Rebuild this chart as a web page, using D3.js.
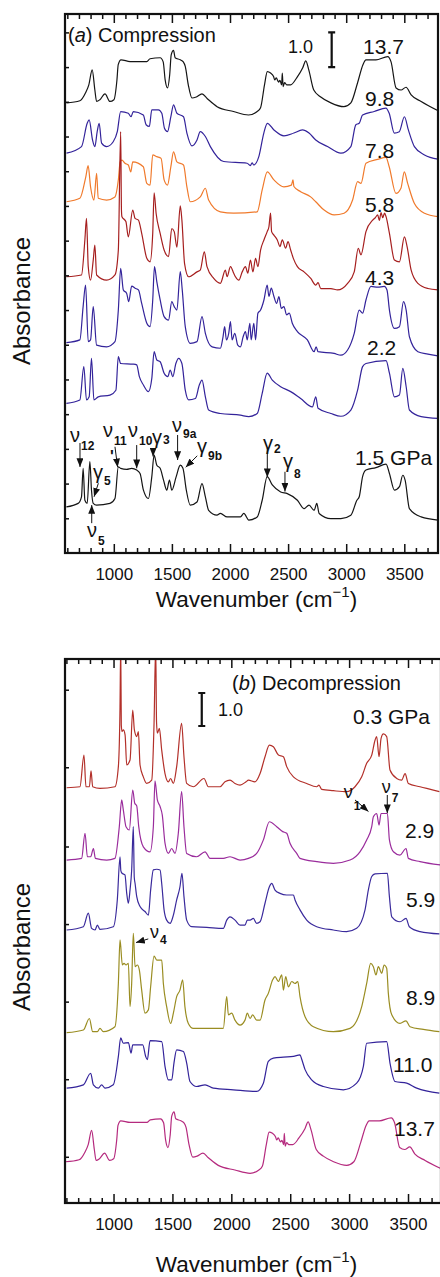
<!DOCTYPE html>
<html>
<head>
<meta charset="utf-8">
<script src="https://cdn.jsdelivr.net/npm/d3@7"></script>
<style>
  body { margin: 0; background: #fff; }
  text { font-family: "Liberation Sans", Arial, Helvetica, sans-serif; fill: #111; }
</style>
</head>
<body>
<svg id="chart" width="440" height="1277"></svg>
<script>
// spectra: [wavenumber, absorbance above the trace's own baseline]
var s137 = [[593,0],[708,0.06],[757,0.29],[785,0.52],[814,0.95],[837,0.37],[852,0.04],[880,0.09],[924,0.26],[967,0.04],[1001,0.09],[1027,0.66],[1038,1.10],[1062,1.24],[1140,1.19],[1284,1.19],[1312,1.27],[1399,1.30],[1425,1.18],[1442,0.66],[1462,0.43],[1481,0.81],[1494,1.38],[1514,1.51],[1528,1.30],[1572,1.24],[1598,1.18],[1615,1.05],[1641,0.52],[1673,0.14],[1710,0.17],[1759,0.26],[1805,0.12],[1889,-0.11],[2030,-0.25],[2159,-0.35],[2234,-0.25],[2263,-0.14],[2297,0.52],[2321,0.90],[2349,0.86],[2375,0.76],[2385,0.66],[2398,0.72],[2418,0.60],[2430,0.65],[2444,0.52],[2450,0.86],[2457,0.47],[2470,0.58],[2488,0.52],[2522,0.52],[2574,0.72],[2626,1.01],[2652,1.21],[2678,0.95],[2721,0.37],[2781,0.17],[2868,0],[2980,-0.11],[3040,0],[3098,0.58],[3144,1.10],[3170,1.24],[3256,1.24],[3357,1.33],[3386,1.18],[3429,0.43],[3472,0.37],[3515,0.45],[3559,0.23],[3645,0.04],[3792,-0.23]];
var s98 = [[593,0],[722,0.19],[771,0.86],[788,0.96],[817,0.38],[837,0.19],[857,0.62],[874,0.86],[895,0.29],[938,0.19],[995,0.33],[1030,0.62],[1059,1.20],[1125,1.15],[1148,1.05],[1168,1.20],[1254,1.10],[1278,0.82],[1306,0.77],[1327,1.25],[1384,1.25],[1413,1.15],[1436,0.72],[1462,0.62],[1491,1.05],[1514,1.39],[1543,1.15],[1600,1.05],[1629,0.58],[1673,0.21],[1716,0.38],[1744,0.62],[1788,0.48],[1831,0.19],[1946,-0.24],[2148,-0.29],[2175,-0.36],[2190,-0.28],[2205,-0.34],[2248,-0.10],[2291,0.58],[2321,0.86],[2378,0.67],[2464,0.50],[2550,0.58],[2623,0.67],[2680,0.58],[2738,0.38],[2839,0.19],[2954,0],[3040,0.19],[3083,0.82],[3112,0.86],[3141,1.10],[3241,1.20],[3342,1.30],[3370,1.15],[3414,0.58],[3457,0.62],[3501,1.05],[3535,0.67],[3587,0.19],[3674,-0.05],[3789,-0.17]];
var s78 = [[593,0],[708,0.10],[759,0.72],[779,1.04],[800,0.43],[829,0.05],[852,0.82],[866,0.10],[938,0.05],[1010,0.14],[1038,0.60],[1055,1.15],[1070,1.20],[1096,1.11],[1125,1.06],[1146,0.86],[1163,1.15],[1254,1.01],[1284,0.53],[1312,0.48],[1335,1.35],[1370,1.30],[1407,1.25],[1433,0.63],[1462,0.48],[1491,1.01],[1514,1.44],[1543,1.15],[1600,1.06],[1629,0.43],[1658,0],[1744,0.14],[1788,0.39],[1816,0.05],[1917,-0.29],[2032,-0.33],[2234,-0.29],[2277,0.34],[2321,0.86],[2378,0.63],[2464,0.43],[2528,0.48],[2542,0.63],[2550,0.44],[2608,0.29],[2694,0.14],[2738,0],[2810,-0.24],[2896,-0.38],[2982,-0.33],[3055,0.05],[3098,0.58],[3127,0.53],[3170,1.11],[3271,1.22],[3342,1.28],[3370,1.01],[3428,0.24],[3471,0.39],[3500,0.86],[3529,0.53],[3587,-0.05],[3674,-0.33],[3789,-0.43]];
var s58 = [[592,0],[722,0.05],[751,1.06],[765,1.68],[780,0.29],[800,-0.10],[823,0.48],[837,0.91],[852,0.05],[938,-0.10],[1010,0.05],[1039,0.77],[1059,4.18],[1066,1.90],[1070,1.73],[1104,1.59],[1125,1.15],[1163,1.92],[1183,1.68],[1212,1.63],[1240,1.25],[1284,0.53],[1312,0.43],[1335,1.25],[1347,2.42],[1364,1.83],[1399,1.25],[1433,0.77],[1471,0.58],[1499,1.39],[1520,1.30],[1543,0.85],[1572,2.04],[1586,1.63],[1609,0.38],[1644,0],[1716,0.14],[1744,0.19],[1779,0.72],[1802,0.29],[1860,-0.05],[1917,-0.19],[1960,0.19],[1975,0],[2004,0.29],[2032,0.10],[2047,0],[2076,-0.10],[2105,0.14],[2133,0.29],[2153,0.10],[2176,0.48],[2197,0.14],[2220,0.53],[2240,0.29],[2263,0.77],[2292,1.06],[2320,1.30],[2335,1.44],[2349,1.83],[2358,1.30],[2378,1.20],[2407,1.06],[2430,0.87],[2450,1.06],[2479,0.82],[2499,1.01],[2522,0.77],[2545,0.53],[2580,0.29],[2637,0.14],[2695,-0.05],[2738,-0.24],[2758,-0.17],[2781,-0.34],[2868,-0.34],[2925,-0.38],[3012,-0.19],[3069,0.14],[3104,0.82],[3127,0.63],[3170,1.30],[3228,1.63],[3250,1.70],[3271,1.78],[3285,1.62],[3300,1.85],[3314,1.70],[3330,1.83],[3343,1.73],[3372,1.25],[3415,0.48],[3458,0.43],[3501,1.15],[3524,0.87],[3559,0.19],[3617,-0.19],[3703,-0.34],[3789,-0.38]];
var s43 = [[592,0],[708,0.08],[736,1.04],[757,1.66],[780,0.03],[800,0.08],[823,1.04],[852,-0.07],[938,-0.12],[1010,0.03],[1039,0.94],[1059,2.14],[1082,1.52],[1111,1.42],[1128,1.18],[1154,1.63],[1183,1.57],[1212,1.52],[1240,1.13],[1284,0.56],[1312,0.46],[1335,1.23],[1350,2.19],[1370,1.76],[1399,1.23],[1433,0.75],[1471,0.65],[1499,1.18],[1520,1.04],[1543,0.94],[1572,2.05],[1589,1.52],[1615,0.46],[1658,-0.02],[1716,0.03],[1759,0.75],[1788,0.27],[1846,-0.12],[1917,-0.16],[1940,0.17],[1954,0.46],[1969,0.08],[1989,0.27],[2004,0.61],[2018,0.08],[2041,0.27],[2067,-0.07],[2090,-0.12],[2113,0.17],[2133,0.32],[2148,0.08],[2171,0.56],[2182,0.08],[2205,0.56],[2220,0.08],[2240,0.85],[2263,0.94],[2292,1.23],[2320,1.66],[2335,1.33],[2355,1.57],[2378,1.33],[2401,1.13],[2421,1.33],[2441,0.99],[2464,1.04],[2487,0.80],[2510,0.85],[2536,0.56],[2580,0.32],[2666,0.08],[2724,-0.26],[2741,-0.12],[2758,-0.26],[2896,-0.31],[2954,-0.36],[3012,-0.21],[3069,0.27],[3112,0.94],[3141,0.85],[3170,1.23],[3213,1.62],[3271,1.60],[3328,1.62],[3351,1.52],[3372,0.94],[3415,0.41],[3458,0.46],[3493,1.18],[3516,0.94],[3544,0.17],[3617,-0.26],[3703,-0.33],[3789,-0.38]];
var s22 = [[592,0],[708,0.10],[742,1.06],[765,0.10],[788,0.19],[808,1.30],[829,0.10],[866,0.19],[967,0.24],[1018,0.38],[1039,1.35],[1059,1.15],[1169,1.13],[1197,1.11],[1220,0.77],[1255,0.53],[1298,0.34],[1327,0.72],[1347,1.49],[1370,1.25],[1399,1.20],[1433,0.87],[1465,0.77],[1485,0.96],[1508,0.77],[1534,1.15],[1558,1.30],[1586,1.15],[1615,0.38],[1644,0.10],[1702,0.14],[1736,0.53],[1759,0.67],[1788,0.19],[1816,-0.19],[1917,-0.29],[2090,-0.34],[2162,-0.38],[2234,-0.29],[2277,0.29],[2320,0.87],[2364,0.67],[2436,0.48],[2522,0.34],[2608,0.14],[2709,-0.10],[2738,0.19],[2758,-0.14],[2868,-0.29],[2954,-0.37],[3040,-0.19],[3098,0.38],[3141,1.06],[3170,1.15],[3343,1.23],[3372,0.87],[3415,0.19],[3458,0.24],[3487,1.01],[3516,0.48],[3544,-0.19],[3645,-0.38],[3789,-0.43]];
var s15 = [[592,0],[693,0.10],[722,0.29],[736,1.11],[751,0.19],[771,0.10],[794,1.30],[808,0.48],[823,0.10],[852,0.05],[967,0.10],[1010,0.24],[1039,1.15],[1059,1.11],[1111,1.08],[1154,1.11],[1197,1.06],[1226,0.96],[1255,0.48],[1298,0.24],[1327,0.87],[1347,1.49],[1370,1.20],[1399,1.11],[1428,0.77],[1456,0.48],[1479,0.77],[1499,0.48],[1537,0.87],[1572,1.20],[1595,1.11],[1624,0.48],[1658,0.05],[1716,0.14],[1759,0.67],[1788,0.29],[1816,-0.10],[1888,-0.24],[1917,-0.19],[1975,-0.29],[2090,-0.29],[2119,-0.19],[2162,-0.38],[2234,-0.29],[2277,0.19],[2320,0.87],[2364,0.63],[2436,0.43],[2493,0.38],[2580,0.19],[2637,-0.05],[2680,0.05],[2724,-0.10],[2747,0.10],[2767,-0.19],[2868,-0.34],[2954,-0.34],[3040,-0.24],[3092,0.19],[3112,0.29],[3141,0.87],[3170,1.06],[3256,1.13],[3343,1.23],[3372,0.96],[3415,0.48],[3458,0.58],[3487,0.91],[3507,0.77],[3544,-0.05],[3645,-0.29],[3789,-0.38]];

var s03 = [[602,0],[715,0.03],[749,0.99],[766,0.03],[795,0.03],[809,0.51],[823,0.03],[885,-0.02],[1012,0.03],[1041,0.64],[1055,2.45],[1061,4.30],[1066,1.90],[1072,1.70],[1083,1.75],[1098,1.60],[1112,0.69],[1140,0.84],[1163,2.35],[1177,1.75],[1197,1.55],[1211,1.70],[1225,0.69],[1253,0.33],[1281,0.13],[1324,0.23],[1344,1.95],[1358,4.30],[1365,2.00],[1372,1.65],[1389,1.80],[1409,1.14],[1437,0.43],[1465,0.18],[1485,0.28],[1508,0.13],[1536,0.64],[1578,1.95],[1598,0.94],[1621,0.13],[1677,0.03],[1768,0.28],[1805,0.03],[1904,0.03],[1946,0.18],[1989,0.23],[2031,0.13],[2074,0.08],[2125,0.18],[2145,0.23],[2201,0.18],[2244,0.43],[2286,0.94],[2323,1.29],[2357,1.24],[2400,0.99],[2442,0.94],[2470,0.64],[2527,0.33],[2640,0.13],[2725,0.03],[2744,0.08],[2767,-0.05],[2866,-0.09],[2979,-0.12],[3050,0.03],[3107,0.33],[3149,0.74],[3192,0.99],[3220,1.44],[3234,1.55],[3254,0.94],[3271,1.49],[3291,1.63],[3319,1.55],[3347,0.54],[3404,0.28],[3446,0.23],[3475,0.43],[3503,0.13],[3602,0.03],[3715,-0.07],[3766,-0.12]];
var s29 = [[602,0],[729,0.05],[758,0.81],[778,0.10],[806,0.10],[829,0.35],[846,0.05],[942,0],[1012,0.05],[1049,1.01],[1069,1.82],[1083,1.52],[1106,1.01],[1134,0.91],[1163,2.12],[1180,1.72],[1197,1.64],[1214,1.01],[1253,0.40],[1310,0.25],[1338,1.01],[1352,2.40],[1372,1.82],[1395,1.62],[1414,1.36],[1437,0.51],[1465,0.20],[1494,0.35],[1522,0.20],[1550,0.81],[1578,2.07],[1598,1.01],[1621,0.20],[1706,0.10],[1777,0.25],[1819,0.05],[1932,0.05],[1989,0.10],[2074,0],[2145,0.05],[2215,0.20],[2272,0.61],[2323,1.16],[2385,1.01],[2436,0.86],[2470,0.81],[2498,0.51],[2555,0.20],[2583,0.05],[2725,-0.05],[2866,-0.10],[3008,0],[3092,0.25],[3149,0.61],[3192,1.01],[3206,1.31],[3234,1.41],[3254,1.06],[3271,1.41],[3325,1.41],[3342,0.61],[3376,0.25],[3432,0.15],[3483,0.35],[3503,0.05],[3602,-0.05],[3772,-0.15]];
var s59 = [[602,0],[744,0.10],[786,0.51],[814,0.05],[843,0],[863,0.15],[885,0.02],[998,0.10],[1032,0.91],[1055,2.22],[1062,1.80],[1072,1.72],[1097,1.67],[1112,1.11],[1126,0.81],[1140,1.21],[1154,1.82],[1168,3.13],[1176,1.60],[1183,1.41],[1197,1.01],[1225,0.71],[1267,0.56],[1296,0.45],[1315,1.21],[1338,1.82],[1367,1.84],[1395,1.82],[1409,1.41],[1429,0.61],[1451,0.30],[1480,0.20],[1508,0.45],[1536,0.91],[1564,1.31],[1581,1.72],[1598,1.01],[1621,0.30],[1663,0.10],[1791,0.08],[1932,0.05],[1961,0.30],[1989,0.40],[2031,0.30],[2074,0.15],[2116,0.15],[2136,0.30],[2159,0.30],[2187,0.35],[2215,0.20],[2244,0.25],[2286,0.81],[2323,1.31],[2343,1.41],[2371,1.21],[2413,1.11],[2470,1.06],[2527,1.06],[2541,0.91],[2583,0.61],[2640,0.30],[2725,0.10],[2866,0],[2979,-0.05],[3064,0.05],[3135,0.61],[3163,1.21],[3192,1.62],[3220,1.70],[3325,1.72],[3342,1.01],[3362,0.40],[3432,0.25],[3483,0.35],[3511,0.10],[3602,-0.05],[3766,-0.12]];
var s89 = [[602,0],[744,0.08],[795,0.43],[823,0.03],[863,0.03],[885,0.13],[913,0.03],[1012,0.18],[1041,1.49],[1055,2.81],[1075,2.05],[1089,2.10],[1106,2.05],[1126,2.10],[1140,0.79],[1154,1.49],[1168,3.01],[1183,2.00],[1202,2.05],[1219,1.90],[1239,1.29],[1267,0.59],[1296,0.69],[1315,1.39],[1344,2.32],[1367,2.20],[1409,2.20],[1423,1.49],[1451,0.79],[1485,0.28],[1508,0.59],[1536,1.09],[1564,1.29],[1587,1.60],[1606,0.79],[1635,0.28],[1677,0.13],[1791,0.13],[1932,0.13],[1961,1.09],[1975,0.54],[2003,0.59],[2031,0.38],[2074,0.23],[2116,0.38],[2136,0.59],[2159,0.43],[2181,0.54],[2215,0.38],[2244,0.38],[2286,0.99],[2314,1.19],[2351,1.60],[2371,1.70],[2399,1.55],[2428,1.75],[2442,1.29],[2462,1.70],[2484,1.39],[2513,1.55],[2541,1.49],[2564,1.55],[2583,1.09],[2626,0.48],[2697,0.18],[2866,0.03],[3008,0.13],[3107,0.79],[3149,1.49],[3183,2.10],[3206,2.00],[3228,1.75],[3248,2.00],[3277,1.80],[3297,2.05],[3319,1.95],[3333,1.19],[3362,0.54],[3432,0.28],[3483,0.36],[3517,0.18],[3630,0.10],[3766,0.03]];
var s110 = [[602,0],[744,0.10],[806,0.45],[829,0.10],[871,0],[899,0.10],[928,0],[998,0.10],[1041,0.96],[1061,1.52],[1083,1.36],[1126,1.38],[1149,1.06],[1163,1.31],[1211,1.31],[1248,1.31],[1273,0.96],[1287,0.86],[1310,1.44],[1409,1.41],[1437,0.66],[1465,0.25],[1494,0.25],[1513,0.76],[1536,1.16],[1593,1.11],[1621,0.76],[1649,0.20],[1706,0.05],[1777,0.10],[1847,0],[2017,-0.05],[2215,-0.10],[2272,0.15],[2314,0.81],[2357,0.91],[2442,0.94],[2527,0.96],[2583,1.01],[2597,0.88],[2626,0.56],[2682,0.25],[2781,0.05],[2951,-0.05],[3064,0.15],[3121,0.66],[3149,1.36],[3319,1.41],[3347,0.76],[3390,0.20],[3489,0.15],[3574,0],[3766,-0.15]];

// compression (panel a)
var pressuresA = ["13.7", "9.8", "7.8", "5.8", "4.3", "2.2", "1.5 GPa"];
var offsetsA = [12.97, 11.52, 10.12, 7.96, 6.06, 4.31, 1.33];
var spectraA = [s137, s98, s78, s58, s43, s22, s15];
// decompression (panel b)
var pressuresB = ["0.3 GPa", "2.9", "5.9", "8.9", "11.0", "13.7"];
var offsetsB = [12.58, 10.39, 8.27, 5.16, 3.48, 1.25];
var spectraB = [s03, s29, s59, s89, s110, s137];

var majorTicks = [1000, 1500, 2000, 2500, 3000, 3500];
var minorTicks = d3.range(600, 3800, 100).filter(function(d) { return d % 500 !== 0; });
var yTicksA = d3.range(1, 16);
var yTicksB = [1.4, 3.75, 6.1, 8.45, 10.8, 13.2, 15.55];

// mode labels: letter, subscript, label anchor [cm-1, abs], arrow [x1,y1,x2,y2]
var modesA = [
  {t: "ν", sub: "12", at: [623, 3.20], dy: 8, arrow: [709, 3.17, 709, 2.48]},
  {t: "γ", sub: "5", at: [821, 2.13], dy: 6, arrow: [867, 2.01, 830, 1.62]},
  {t: "ν", sub: "5", at: [769, 0.46], dy: 8, arrow: [810, 0.86, 810, 1.38]},
  {t: "ν", sub: "11", at: [907, 3.34], dy: 8, arrow: [1010, 3.06, 1033, 2.47]},
  {t: "ν", sub: "10", at: [1122, 3.34], dy: 8, arrow: [1197, 3.11, 1197, 2.44]},
  {t: "γ", sub: "3", at: [1329, 3.14], dy: 0, arrow: [1338, 2.98, 1338, 2.78]},
  {t: "ν", sub: "9a", at: [1501, 3.49], dy: 6, arrow: [1549, 3.40, 1549, 2.68]},
  {t: "γ", sub: "9b", at: [1716, 2.88], dy: 7, arrow: [1718, 2.80, 1619, 2.47]},
  {t: "γ", sub: "2", at: [2284, 2.97], dy: 3, arrow: [2321, 3.03, 2321, 2.18]},
  {t: "γ", sub: "8", at: [2456, 2.45], dy: 10, arrow: [2473, 2.34, 2473, 1.77]}
];
var modesB = [
  {t: "ν", sub: "1", at: [2955, 12.27], dy: 12, arrow: [3050, 12.21, 3164, 11.86]},
  {t: "ν", sub: "7", at: [3277, 12.42], dy: 9, arrow: [3324, 12.36, 3324, 11.81]},
  {t: "ν", sub: "4", at: [1310, 8.03], dy: 6, arrow: [1295, 8.00, 1191, 7.89]}
];

var svg = d3.select("#chart");
svg.append("defs").append("marker")
  .attr("id", "arrow").attr("viewBox", "0 0 10 8")
  .attr("refX", 10).attr("refY", 4)
  .attr("markerWidth", 9).attr("markerHeight", 7)
  .attr("markerUnits", "userSpaceOnUse").attr("orient", "auto")
  .append("path").attr("d", "M0,0L10,4L0,8Z").attr("fill", "#111");

function drawPanel(p) {
  var x = d3.scaleLinear().domain(p.xDomain).range([p.left, p.right]);
  var y = d3.scaleLinear().domain(p.yDomain).range([p.bottom, p.top]);
  var g = svg.append("g");

  g.append("clipPath").attr("id", "clip-" + p.id).append("rect")
    .attr("x", p.left).attr("y", p.top)
    .attr("width", p.right - p.left).attr("height", p.bottom - p.top);

  var plot = g.append("g").attr("clip-path", "url(#clip-" + p.id + ")");
  p.spectra.forEach(function(s, i) {
    var off = p.offsets[i];
    var line = d3.line()
      .x(function(d) { return x(d[0]); })
      .y(function(d) { return y(d[1] + off); })
      .curve(d3.curveMonotoneX);
    plot.append("path").datum(s)
      .attr("fill", "none")
      .attr("stroke", p.colours[i])
      .attr("stroke-width", 1.2)
      .attr("stroke-linejoin", "round")
      .attr("d", line);
  });

  // ticks on all sides, pointing inward
  function ticks(axis, transform) {
    var a = g.append("g").attr("transform", transform).call(axis);
    a.select(".domain").remove();
    a.selectAll(".tick line").attr("stroke", "#111").attr("stroke-width", 1.5);
    return a;
  }
  ticks(d3.axisBottom(x).tickValues(minorTicks).tickSize(-5).tickFormat(""), "translate(0," + p.bottom + ")");
  var bottom = ticks(d3.axisBottom(x).tickValues(majorTicks).tickSize(-9).tickPadding(15).tickFormat(d3.format("d")),
    "translate(0," + p.bottom + ")");
  bottom.selectAll("text").attr("font-size", 17).attr("fill", "#111")
    .style("font-family", '"Liberation Sans", Arial, sans-serif');
  ticks(d3.axisTop(x).tickValues(minorTicks).tickSize(-5).tickFormat(""), "translate(0," + p.top + ")");
  ticks(d3.axisTop(x).tickValues(majorTicks).tickSize(-9).tickFormat(""), "translate(0," + p.top + ")");
  ticks(d3.axisLeft(y).tickValues(p.yTicks).tickSize(-4).tickFormat(""), "translate(" + p.left + ",0)");

  g.append("rect")
    .attr("x", p.left).attr("y", p.top)
    .attr("width", p.right - p.left).attr("height", p.bottom - p.top)
    .attr("fill", "none").attr("stroke", "#111").attr("stroke-width", 2.2);

  // panel title
  var title = g.append("text")
    .attr("x", x(p.title.at[0])).attr("y", y(p.title.at[1]))
    .attr("font-size", 20);
  title.append("tspan").text("(");
  title.append("tspan").attr("font-style", "italic").text(p.title.letter);
  title.append("tspan").text(") " + p.title.text);

  // 1.0 absorbance scale bar
  var bx = x(p.bar.at[0]);
  var b0 = y(p.bar.at[1]), b1 = y(p.bar.at[1] + 1.0);
  g.append("path")
    .attr("d", "M" + bx + "," + b0 + "V" + b1 + "M" + (bx - 3.5) + "," + b0 + "h7M" + (bx - 3.5) + "," + b1 + "h7")
    .attr("stroke", "#111").attr("stroke-width", 2.2).attr("fill", "none");
  g.append("text").attr("x", x(p.bar.label[0])).attr("y", y(p.bar.label[1]))
    .attr("font-size", 18).text("1.0");

  // pressure labels
  p.pressures.forEach(function(t, i) {
    g.append("text")
      .attr("x", x(p.labelAt[i][0])).attr("y", y(p.labelAt[i][1]))
      .attr("font-size", 21).text(t);
  });

  // mode assignments with arrows
  p.modes.forEach(function(m) {
    var lbl = g.append("text")
      .attr("x", x(m.at[0])).attr("y", y(m.at[1]))
      .attr("font-size", p.modeSize);
    lbl.append("tspan").text(m.t);
    lbl.append("tspan").attr("font-size", 12).attr("font-weight", "bold")
      .attr("dx", 1).attr("dy", m.dy).text(m.sub);
    g.append("line")
      .attr("x1", x(m.arrow[0])).attr("y1", y(m.arrow[1]))
      .attr("x2", x(m.arrow[2])).attr("y2", y(m.arrow[3]))
      .attr("stroke", "#111").attr("stroke-width", 1)
      .attr("marker-end", "url(#arrow)");
  });

  // axis titles
  var xl = g.append("text")
    .attr("x", (p.left + 438) / 2 + 5).attr("y", p.bottom + p.xTitleGap)
    .attr("text-anchor", "middle").attr("font-size", 22.5);
  xl.append("tspan").text("Wavenumber (cm");
  xl.append("tspan").attr("font-size", 15).attr("dy", -10).text("−1");
  xl.append("tspan").attr("dy", 10).text(")");

  g.append("text")
    .attr("transform", "translate(30," + p.yTitleY + ") rotate(-90)")
    .attr("text-anchor", "middle").attr("font-size", 24).text("Absorbance");

  return {x: x, y: y, g: g};
}

var panelA = drawPanel({
  id: "a", left: 65, right: 438, top: 14, bottom: 553,
  xDomain: [580, 3790], yDomain: [0, 15.53],
  spectra: spectraA, offsets: offsetsA,
  colours: ["#151515", "#33239a", "#f07a2c", "#a61f1f", "#33239a", "#33239a", "#151515"],
  yTicks: yTicksA,
  title: {letter: "a", text: "Compression", at: [606, 14.73]},
  bar: {at: [2875, 14.0], label: [2499, 14.41]},
  pressures: pressuresA,
  labelAt: [[3145, 14.38], [3162, 12.88], [3162, 11.38], [3162, 9.83], [3162, 7.72], [3179, 5.71], [3076, 2.54]],
  modes: modesA, modeSize: 20,
  xTitleGap: 54, yTitleY: 301
});
// stray prime mark beside the ν11 arrow
panelA.g.append("text").attr("x", panelA.x(967)).attr("y", panelA.y(2.62))
  .attr("font-size", 16).attr("font-weight", "bold").text("'");

drawPanel({
  id: "b", left: 65, right: 441, top: 659, bottom: 1203,
  xDomain: [588, 3780], yDomain: [0, 16.48],
  spectra: spectraB, offsets: offsetsB,
  colours: ["#b3302a", "#9a2c9c", "#3a2a9c", "#9a8d22", "#33239a", "#b52a7e"],
  yTicks: yTicksB,
  title: {letter: "b", text: "Decompression", at: [2006, 15.55]},
  bar: {at: [1749, 14.45], label: [1887, 14.74]},
  pressures: pressuresB,
  labelAt: [[3033, 14.52], [3475, 11.06], [3483, 8.97], [3483, 6.0], [3373, 3.97], [3381, 2.03]],
  modes: modesB, modeSize: 18,
  xTitleGap: 69, yTitleY: 947
});
</script>
</body>
</html>
